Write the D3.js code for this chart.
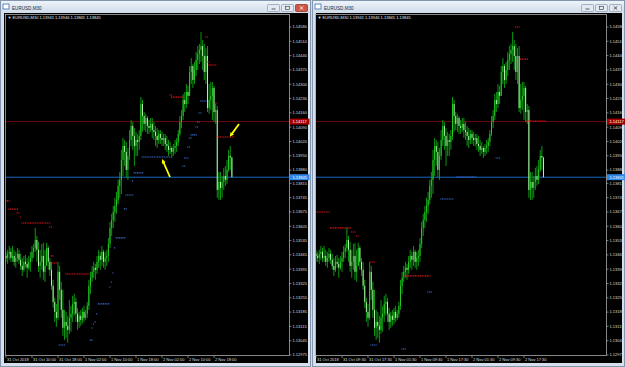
<!DOCTYPE html>
<html>
<head>
<meta charset="utf-8">
<script src="https://cdn.jsdelivr.net/npm/d3@7"></script>
<style>
  body { margin: 0; background: #d3dde9; }
  svg { display: block; font-family: "Liberation Sans", Arial, sans-serif; }
</style>
</head>
<body>
<div id="chart"></div>
<script>
// EURUSD M30, one bar every 30 minutes from 31 Oct 2018 01:30
const symbol = "EURUSD,M30";
const firstBar = "2018-10-31T01:30:00";
const firstOpen = 1.13470;

const highs = [
  1.13490,1.13480,1.13490,1.13509,1.13499,1.13509,1.13490,1.13480,1.13499,1.13490,
  1.13470,1.13450,1.13460,1.13465,1.13450,1.13460,1.13480,1.13509,1.13519,1.13597,
  1.13558,1.13529,1.13490,1.13519,1.13524,1.13490,1.13524,1.13509,1.13450,1.13431,
  1.13343,1.13255,1.13225,1.13431,1.13411,1.13333,1.13294,1.13196,1.13186,1.13167,
  1.13245,1.13216,1.13265,1.13274,1.13255,1.13206,1.13186,1.13196,1.13206,1.13216,
  1.13196,1.13235,1.13343,1.13382,1.13411,1.13431,1.13421,1.13460,1.13490,1.13480,
  1.13509,1.13490,1.13480,1.13490,1.13548,1.13626,1.13666,1.13705,1.13744,1.13773,
  1.13832,1.13871,1.13979,1.14037,1.14027,1.14018,1.13988,1.14076,1.14125,1.14115,
  1.14086,1.14067,1.14057,1.14076,1.14238,1.14223,1.14164,1.14155,1.14145,1.14125,
  1.14135,1.14135,1.14115,1.14096,1.14086,1.14076,1.14076,1.14067,1.14057,1.14057,
  1.14047,1.14027,1.14018,1.13998,1.14008,1.14027,1.14037,1.14076,1.14145,1.14174,
  1.14252,1.14262,1.14301,1.14292,1.14389,1.14428,1.14399,1.14409,1.14458,1.14487,
  1.14497,1.14556,1.14516,1.14497,1.14477,1.14487,1.14301,1.14311,1.14311,1.14292,
  1.14203,1.14194,1.13871,1.13871,1.13851,1.13891,1.13900,1.13930,1.13979,1.13998,
  1.13946
];
const lows = [
  1.13431,1.13431,1.13421,1.13441,1.13431,1.13431,1.13411,1.13402,1.13431,1.13421,
  1.13392,1.13362,1.13382,1.13402,1.13353,1.13392,1.13382,1.13431,1.13450,1.13480,
  1.13431,1.13382,1.13353,1.13392,1.13343,1.13333,1.13411,1.13392,1.13362,1.13294,
  1.13206,1.13137,1.13113,1.13147,1.13245,1.13157,1.13069,1.13049,1.13059,1.13035,
  1.13079,1.13089,1.13137,1.13167,1.13137,1.13098,1.13108,1.13118,1.13128,1.13137,
  1.13147,1.13157,1.13196,1.13274,1.13333,1.13353,1.13343,1.13372,1.13402,1.13392,
  1.13411,1.13402,1.13392,1.13411,1.13431,1.13499,1.13558,1.13597,1.13626,1.13666,
  1.13714,1.13744,1.13763,1.13851,1.13900,1.13842,1.13832,1.13930,1.13998,1.13979,
  1.13900,1.13949,1.13949,1.13979,1.14027,1.14067,1.14076,1.14067,1.14057,1.14057,
  1.14067,1.14037,1.14027,1.13998,1.13988,1.14008,1.14008,1.13998,1.13998,1.13979,
  1.13969,1.13949,1.13959,1.13939,1.13949,1.13959,1.13969,1.13998,1.14047,1.14086,
  1.14125,1.14164,1.14184,1.14203,1.14243,1.14301,1.14282,1.14301,1.14340,1.14370,
  1.14399,1.14409,1.14370,1.14321,1.14301,1.14164,1.14155,1.14174,1.14125,1.14115,
  1.14106,1.13744,1.13734,1.13734,1.13744,1.13783,1.13803,1.13812,1.13871,1.13881,
  1.13845
];
const closes = [
  1.13460,1.13450,1.13470,1.13480,1.13450,1.13460,1.13431,1.13450,1.13470,1.13441,
  1.13411,1.13392,1.13431,1.13421,1.13402,1.13431,1.13450,1.13480,1.13499,1.13538,
  1.13490,1.13411,1.13431,1.13460,1.13382,1.13411,1.13499,1.13431,1.13392,1.13314,
  1.13235,1.13186,1.13157,1.13382,1.13294,1.13196,1.13108,1.13137,1.13118,1.13098,
  1.13157,1.13177,1.13225,1.13235,1.13177,1.13137,1.13167,1.13147,1.13186,1.13157,
  1.13177,1.13216,1.13314,1.13353,1.13382,1.13402,1.13392,1.13431,1.13460,1.13441,
  1.13480,1.13431,1.13450,1.13460,1.13519,1.13597,1.13636,1.13675,1.13705,1.13734,
  1.13803,1.13832,1.13930,1.13998,1.13969,1.13881,1.13949,1.14027,1.14096,1.14047,
  1.13998,1.14027,1.14018,1.14047,1.14203,1.14145,1.14106,1.14135,1.14096,1.14086,
  1.14106,1.14076,1.14067,1.14047,1.14027,1.14057,1.14037,1.14027,1.14037,1.14008,
  1.13998,1.13979,1.13988,1.13969,1.13988,1.13998,1.14018,1.14057,1.14115,1.14145,
  1.14223,1.14203,1.14262,1.14243,1.14360,1.14389,1.14321,1.14370,1.14419,1.14448,
  1.14468,1.14487,1.14438,1.14360,1.14438,1.14184,1.14223,1.14243,1.14282,1.14164,
  1.14174,1.13783,1.13822,1.13793,1.13822,1.13851,1.13832,1.13881,1.13949,1.13941,
  1.13845
];

const priceTicks = [1.14580,1.14510,1.14440,1.14370,1.14300,1.14230,1.14160,1.14090,
  1.14020,1.13950,1.13880,1.13815,1.13745,1.13675,1.13605,1.13535,1.13465,1.13395,
  1.13325,1.13255,1.13185,1.13115,1.13045,1.12975];
const redLevel = 1.14117;
const blueLevel = 1.13845;

const leftTickTimes = ["2018-10-31T02:00","2018-10-31T10:00","2018-10-31T18:00","2018-11-01T02:00",
  "2018-11-01T10:00","2018-11-01T18:00","2018-11-02T02:00","2018-11-02T10:00","2018-11-02T18:00"];
const leftTickLabels = ["31 Oct 2018","31 Oct 10:00","31 Oct 18:00","1 Nov 02:00","1 Nov 10:00",
  "1 Nov 18:00","2 Nov 02:00","2 Nov 10:00","2 Nov 18:00"];
const rightTickTimes = ["2018-10-31T01:30","2018-10-31T09:30","2018-10-31T17:30","2018-11-01T01:30",
  "2018-11-01T09:30","2018-11-01T17:30","2018-11-02T01:30","2018-11-02T09:30","2018-11-02T17:30"];
const rightTickLabels = ["31 Oct 2018","31 Oct 09:30","31 Oct 17:30","1 Nov 01:30","1 Nov 09:30",
  "1 Nov 17:30","2 Nov 01:30","2 Nov 09:30","2 Nov 17:30"];

// indicator levels: [from bar, to bar, price]
const leftRed = [[1,3,1.13729],[3,8,1.13689],[8,9,1.13670],[10,10,1.13650],[11,28,1.13621],
  [28,29,1.13601],[29,30,1.13460],[30,32,1.13425],[38,52,1.13371],[102,103,1.14247],
  [103,110,1.14237],[124,125,1.14531],[125,126,1.14409],[126,130,1.14394],[130,131,1.14208],
  [131,141,1.14042]];
const leftBlue = [[34,37,1.13024],[53,54,1.13048],[54,54,1.13107],[55,55,1.13127],[56,56,1.13137],
  [57,57,1.13176],[58,64,1.13225],[65,65,1.13308],[66,66,1.13332],[67,67,1.13376],[68,68,1.13499],
  [69,74,1.13548],[74,75,1.13690],[75,79,1.13758],[79,79,1.13827],[80,85,1.13866],[85,102,1.13944],
  [110,111,1.13900],[111,113,1.13939],[113,114,1.13993],[114,115,1.14037],[115,118,1.14052],
  [118,119,1.14091],[119,120,1.14115],[120,121,1.14159],[121,124,1.14218]];
const rightRed = [[0,8,1.13675],[9,21,1.13597],[22,24,1.13577],[25,26,1.13557],[34,36,1.13430],
  [54,70,1.13362],[123,125,1.14580],[126,130,1.14423],[130,141,1.14120]];
const rightBlue = [[34,37,1.13024],[53,55,1.13004],[69,71,1.13283],[77,84,1.13738],
  [87,98,1.13846],[111,113,1.13939]];

// yellow arrows on the left chart: [from bar, from price, to bar, to price]
const arrows = [[101.9,1.13846,97.6,1.13924],[144.4,1.14105,139.5,1.14052]];

const W = 625, H = 367;
const HALF_HOUR = 30 * 60 * 1000;
const pxPerBar = 1.625;
const t0 = d3.isoParse(firstBar);
const barTime = i => new Date(+t0 + i * HALF_HOUR);
const bars = closes.map((c, i) => ({
  t: barTime(i), o: i ? closes[i - 1] : firstOpen, h: highs[i], l: lows[i], c: c
}));
const fmt = d3.format(".5f");
const lastBar = bars[bars.length - 1];

const y = d3.scaleLinear().domain([1.12975, 1.14580]).range([355, 27]);

const svg = d3.select("#chart").append("svg").attr("width", W).attr("height", H);
const defs = svg.append("defs");
const grad = defs.append("linearGradient").attr("id", "title").attr("x1", 0).attr("x2", 0).attr("y1", 0).attr("y2", 1);
grad.append("stop").attr("offset", "0%").attr("stop-color", "#eef3f9");
grad.append("stop").attr("offset", "100%").attr("stop-color", "#cfdbea");
defs.append("marker").attr("id", "head").attr("viewBox", "0 0 10 10").attr("refX", 5).attr("refY", 5)
  .attr("markerWidth", 2.4).attr("markerHeight", 2.4).attr("orient", "auto")
  .append("path").attr("d", "M0,0L10,5L0,10z").attr("fill", "#ffff00");

const panes = [
  { x0: 0, x1: 311, active: true, left: 5.5, right: 289.5, first: 1,
    ticks: leftTickTimes, labels: leftTickLabels, red: leftRed, blue: leftBlue, arrows: arrows },
  { x0: 312, x1: 625, active: false, left: 315.5, right: 606.5, first: 0,
    ticks: rightTickTimes, labels: rightTickLabels, red: rightRed, blue: rightBlue, arrows: [] }
];
const plotTop = 14.5, plotBottom = 355.5;

panes.forEach(function (p, k) {
  const g = svg.append("g");

  // window frame and title bar
  g.append("rect").attr("x", p.x0 + 0.5).attr("y", 0.5).attr("width", p.x1 - p.x0 - 1).attr("height", H - 1)
    .attr("fill", "#d6e0ec").attr("stroke", "#8396ae");
  g.append("rect").attr("x", p.x0 + 1).attr("y", 1).attr("width", p.x1 - p.x0 - 2).attr("height", 12)
    .attr("fill", "url(#title)");
  g.append("rect").attr("x", p.x0 + 3).attr("y", 4).attr("width", 6).attr("height", 5)
    .attr("fill", "#ffffff").attr("stroke", "#3b6fb6").attr("stroke-width", 0.8);
  g.append("text").attr("x", p.x0 + 12).attr("y", 9.5).attr("font-size", 4.6).attr("fill", "#1e2a3a").text(symbol);
  const bx = p.x1 - 44;
  [0, 1, 2].forEach(function (b) {
    const isClose = b === 2 && p.active;
    g.append("rect").attr("x", bx + b * 14 + 0.5).attr("y", 4.5).attr("width", 12).attr("height", 7).attr("rx", 1)
      .attr("fill", isClose ? "#d2553f" : "#e3e9f1").attr("stroke", isClose ? "#8e2a1c" : "#8a99ad").attr("stroke-width", 0.7);
    const gx = bx + b * 14 + 6.5;
    if (b === 0) g.append("line").attr("x1", gx - 2).attr("x2", gx + 2).attr("y1", 9).attr("y2", 9).attr("stroke", "#333").attr("stroke-width", 0.8);
    if (b === 1) g.append("rect").attr("x", gx - 2).attr("y", 6.5).attr("width", 4).attr("height", 3).attr("fill", "none").attr("stroke", "#333").attr("stroke-width", 0.6);
    if (b === 2) g.append("path").attr("d", `M${gx - 1.8},6.3L${gx + 1.8},9.7M${gx + 1.8},6.3L${gx - 1.8},9.7`)
      .attr("stroke", isClose ? "#fff" : "#333").attr("stroke-width", 0.8);
  });

  // black client area
  g.append("rect").attr("x", p.x0 + 4).attr("y", 13).attr("width", p.x1 - p.x0 - 7).attr("height", 350).attr("fill", "#000");

  const x = d3.scaleTime()
    .domain([barTime(p.first), new Date(+barTime(p.first) + (p.right - p.left - 0.5) / pxPerBar * HALF_HOUR)])
    .range([p.left + 0.5, p.right]);
  const xb = i => x(barTime(i));

  const clipId = "clip" + k;
  defs.append("clipPath").attr("id", clipId).append("rect")
    .attr("x", p.left).attr("y", plotTop).attr("width", p.right - p.left).attr("height", plotBottom - plotTop);
  const plot = g.append("g").attr("clip-path", `url(#${clipId})`);

  // horizontal price lines
  plot.append("line").attr("x1", p.left).attr("x2", p.right).attr("y1", y(redLevel)).attr("y2", y(redLevel))
    .attr("stroke", "#8a0c0c").attr("stroke-width", 0.8);
  plot.append("line").attr("x1", p.left).attr("x2", p.right).attr("y1", y(blueLevel)).attr("y2", y(blueLevel))
    .attr("stroke", "#1c74d4").attr("stroke-width", 0.9);

  // candles
  const shown = bars.filter((d, i) => i >= p.first);
  plot.selectAll(".wick").data(shown).enter().append("rect")
    .attr("x", d => x(d.t) - 0.5).attr("width", 1)
    .attr("y", d => y(Math.max(d.h, d.o, d.c)))
    .attr("height", d => Math.max(1, y(Math.min(d.l, d.o, d.c)) - y(Math.max(d.h, d.o, d.c))))
    .attr("fill", "#0c9410");
  plot.selectAll(".body").data(shown).enter().append("rect")
    .attr("x", d => x(d.t) - 0.5).attr("width", 1)
    .attr("y", d => y(Math.max(d.o, d.c)))
    .attr("height", d => Math.max(0.8, Math.abs(y(d.o) - y(d.c))))
    .attr("fill", d => d.c >= d.o ? "#24cc24" : "#b4eeae");

  // indicator levels
  [[p.red, "#e3181a"], [p.blue, "#3f6fdc"]].forEach(function (s) {
    plot.selectAll(null).data(s[0]).enter().append("line")
      .attr("x1", d => xb(d[0]) - 0.8).attr("x2", d => xb(d[1]) + 0.8)
      .attr("y1", d => y(d[2])).attr("y2", d => y(d[2]))
      .attr("stroke", s[1]).attr("stroke-width", 1.1).attr("stroke-dasharray", "1.1,0.6");
  });

  // annotation arrows
  plot.selectAll(null).data(p.arrows).enter().append("line")
    .attr("x1", d => xb(d[0])).attr("y1", d => y(d[1]))
    .attr("x2", d => xb(d[2])).attr("y2", d => y(d[3]))
    .attr("stroke", "#ffff00").attr("stroke-width", 1.8).attr("marker-end", "url(#head)");

  // plot border
  g.append("rect").attr("x", p.left).attr("y", plotTop).attr("width", p.right - p.left).attr("height", plotBottom - plotTop)
    .attr("fill", "none").attr("stroke", "#a8a8a8").attr("stroke-width", 0.8);

  // price axis
  const ya = g.append("g");
  ya.selectAll("line").data(priceTicks).enter().append("line")
    .attr("x1", p.right).attr("x2", p.right + 2).attr("y1", d => y(d)).attr("y2", d => y(d))
    .attr("stroke", "#bdbdbd").attr("stroke-width", 0.6);
  ya.selectAll("text").data(priceTicks).enter().append("text")
    .attr("x", p.right + 3).attr("y", d => y(d)).attr("dy", "0.35em")
    .attr("font-size", 4).attr("fill", "#dcdcdc").text(fmt);
  [[redLevel, "#a40000"], [blueLevel, "#2f86e6"]].forEach(function (t) {
    ya.append("rect").attr("x", p.right + 0.5).attr("y", y(t[0]) - 3).attr("width", 19.5).attr("height", 6).attr("fill", t[1]);
    ya.append("text").attr("x", p.right + 3).attr("y", y(t[0])).attr("dy", "0.35em")
      .attr("font-size", 4).attr("fill", "#ffffff").text(fmt(t[0]));
  });

  // time axis
  const xa = g.append("g");
  const tt = p.ticks.map(d3.isoParse);
  xa.selectAll("line").data(tt).enter().append("line")
    .attr("x1", d => x(d)).attr("x2", d => x(d)).attr("y1", plotBottom).attr("y2", plotBottom + 2.5)
    .attr("stroke", "#bdbdbd").attr("stroke-width", 0.6);
  xa.selectAll("text").data(tt).enter().append("text")
    .attr("x", d => x(d) + 1).attr("y", 361)
    .attr("font-size", 4).attr("fill", "#dcdcdc").text((d, i) => p.labels[i]);

  // chart header
  g.append("text").attr("x", p.left + 2).attr("y", 19).attr("font-size", 4).attr("fill", "#e8e8e8")
    .text("\u25BC " + symbol + "  " + [lastBar.o, lastBar.h, lastBar.l, lastBar.c].map(fmt).join(" "));
});
</script>
</body>
</html>
